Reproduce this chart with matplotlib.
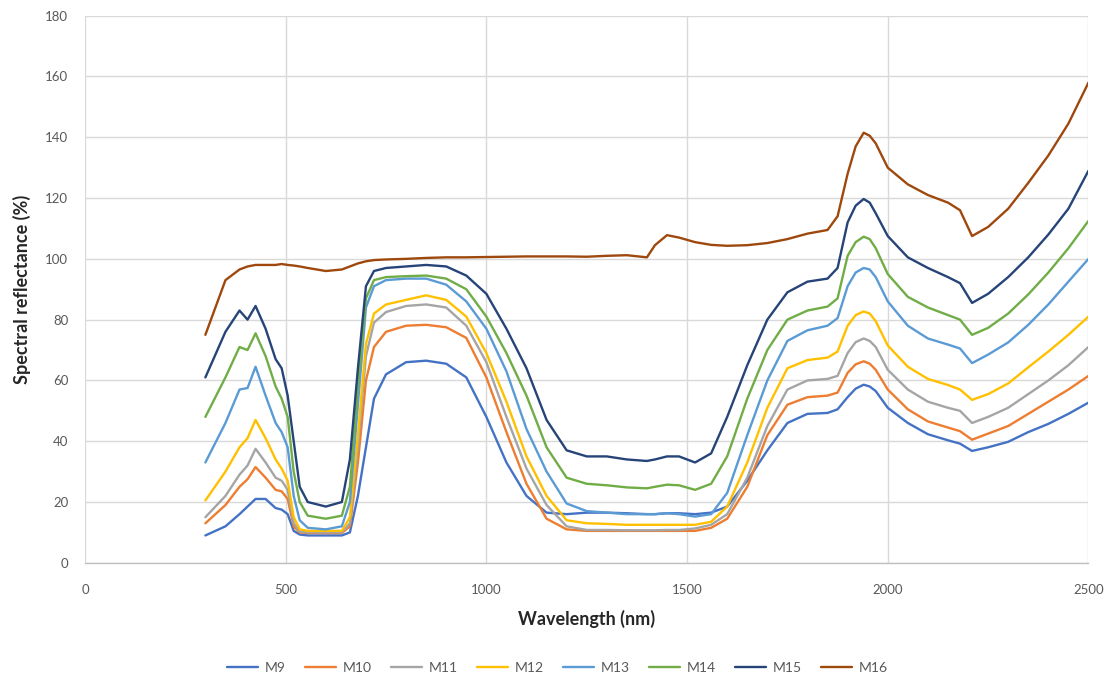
import matplotlib
matplotlib.use("Agg")
import matplotlib.pyplot as plt

plt.rcParams['font.family'] = ['Lato', 'DejaVu Sans']

wavelength = [300, 350, 385, 405, 425, 450, 475, 490, 505, 520,
              535, 555, 600, 640, 660, 680, 700, 720, 750, 800,
              850, 900, 950, 1000, 1050, 1100, 1150, 1200, 1250, 1300,
              1350, 1400, 1420, 1450, 1480, 1520, 1560, 1600, 1650, 1700,
              1750, 1800, 1850, 1875, 1900, 1920, 1940, 1955, 1970, 2000,
              2050, 2100, 2150, 2180, 2210, 2250, 2300, 2350, 2400, 2450,
              2500]

m9 = [9, 12, 16, 18.5, 21, 21, 18, 17.5, 16, 10.5,
      9.3, 9, 9, 9, 10, 22, 38, 54, 62, 66,
      66.5, 65.5, 61, 48, 33, 22, 16.5, 16, 16.5, 16.5,
      16.3, 16, 16, 16.3, 16.3, 16, 16.5, 18.5, 27, 37,
      46, 49, 49.3, 50.5, 54.5, 57.3, 58.6, 58, 56.5, 51,
      46, 42.3, 40.3, 39.2, 36.8, 38, 39.8, 43, 45.7, 49,
      52.7]

m10 = [13, 19, 25, 27.5, 31.5, 28, 24, 23.5, 21, 12,
       10, 9.8, 9.8, 9.8, 12, 33, 60, 71, 76, 78,
       78.3, 77.5, 74, 61, 43, 26, 14.5, 11, 10.5, 10.5,
       10.5, 10.5, 10.5, 10.5, 10.5, 10.5, 11.5, 14.5, 25, 42,
       52, 54.5, 55, 56, 62.5, 65.3, 66.3, 65.5, 63.5, 57,
       50.5, 46.5, 44.5, 43.3, 40.5, 42.5, 45, 49, 53, 57,
       61.5]

m11 = [15, 22, 29, 32, 37.5, 33, 28, 27, 24, 13,
       10.3, 10, 10, 10, 13, 38, 68, 79, 82.5, 84.5,
       85, 84, 78, 66, 48, 31, 19, 12, 10.8, 10.8,
       10.7, 10.7, 10.7, 10.8, 10.8, 11.3, 12.5, 16, 28, 45,
       57, 60, 60.5, 61.5, 69, 72.6, 73.8, 73, 71, 63.5,
       57, 53, 51, 50, 46, 48, 51, 55.5, 60, 65,
       71]

m12 = [20.5, 30, 38, 41, 47, 41, 34, 31, 27, 15,
       11, 10.5, 10.5, 10.5, 15, 42, 72, 82, 85, 86.5,
       88, 86.5, 81, 69, 53, 35, 22, 14, 13, 12.8,
       12.5, 12.5, 12.5, 12.5, 12.5, 12.5, 13.5, 18.5, 33, 51,
       64, 66.7, 67.5, 69.5, 78, 81.5, 82.7, 82, 79.5, 71.5,
       64.5, 60.5, 58.5, 57, 53.6, 55.5, 59, 64.3, 69.5, 75,
       81]

m13 = [33, 46, 57, 57.5, 64.5, 55, 46, 43, 38, 22,
       14, 11.5, 11, 12, 20, 52, 84, 91, 93, 93.5,
       93.5, 91.5, 86, 77, 63, 44, 30, 19.5, 17, 16.5,
       16, 16, 16, 16.3, 16, 15.2, 16, 23, 42, 60,
       73, 76.5, 78, 80.5, 91, 95.5, 97, 96.5, 94, 86,
       78, 73.8, 71.8, 70.5, 65.7, 68.5, 72.5, 78.3, 85, 92.5,
       100]

m14 = [48, 61, 71, 70, 75.5, 68, 58, 54, 48, 30,
       20, 15.5, 14.5, 15.5, 25, 58, 87, 93, 94, 94.3,
       94.5, 93.5, 90, 81, 69, 55, 38, 28, 26, 25.5,
       24.8, 24.5, 25, 25.7, 25.5, 24, 26, 35, 54, 70,
       80, 83, 84.3, 87, 101, 105.5, 107.3, 106.5, 103.5, 95,
       87.5, 84, 81.5, 80, 75, 77.3, 82, 88.3, 95.5, 103.5,
       112.5]

m15 = [61, 76, 83, 80, 84.5, 77, 67, 64, 55, 40,
       25, 20, 18.5, 20, 34, 64, 91, 96, 97, 97.5,
       98, 97.5, 94.5, 88.5, 77, 64, 47, 37, 35, 35,
       34, 33.5, 34, 35, 35, 33, 36, 48, 65, 80,
       89, 92.5, 93.5, 97, 112, 117.5, 119.7, 118.5, 115, 107.5,
       100.5, 97, 94, 92, 85.5, 88.5, 94, 100.5, 108, 116.5,
       129]

m16 = [75, 93, 96.5, 97.5, 98, 98, 98, 98.3, 98, 97.8,
       97.5, 97, 96, 96.5, 97.5, 98.5, 99.2, 99.6, 99.8, 100,
       100.3, 100.5, 100.5, 100.6, 100.7, 100.8, 100.8, 100.8, 100.7, 101,
       101.2, 100.5, 104.5, 107.8, 107, 105.5, 104.6, 104.3, 104.5, 105.2,
       106.5, 108.3, 109.5, 114, 128, 137, 141.5, 140.5, 138, 130,
       124.5, 121, 118.5, 116, 107.5, 110.5, 116.5, 125, 134, 144.5,
       158]

series_names = ['M9', 'M10', 'M11', 'M12', 'M13', 'M14', 'M15', 'M16']
series_values = [m9, m10, m11, m12, m13, m14, m15, m16]
colors = ['#4472C4', '#ED7D31', '#A5A5A5', '#FFC000',
          '#5B9BD5', '#70AD47', '#264478', '#9E480E']

x_ticks = [0, 500, 1000, 1500, 2000, 2500]
y_ticks = [0, 20, 40, 60, 80, 100, 120, 140, 160, 180]

fig = plt.figure(figsize=(11.15, 6.83), dpi=100)
ax = fig.add_axes([0.0762, 0.176, 0.9, 0.801])

for name, vals, c in zip(series_names, series_values, colors):
    ax.plot(wavelength, vals, color=c, lw=1.7, label=name,
            solid_joinstyle='round', solid_capstyle='round')

ax.set_xlim(0, 2500)
ax.set_ylim(0, 180)
ax.set_xticks(x_ticks)
ax.set_yticks(y_ticks)
ax.grid(True, color='#D9D9D9', lw=1.0)
ax.set_axisbelow(True)
for s in ['top', 'right', 'left']:
    ax.spines[s].set_visible(False)
ax.spines['bottom'].set_color('#BFBFBF')
ax.spines['bottom'].set_linewidth(1.0)
ax.tick_params(axis='both', length=0, colors='#595959', labelsize=9.5)
ax.tick_params(axis='x', pad=15)
ax.tick_params(axis='y', pad=12)

ax.set_xlabel('Wavelength (nm)', fontsize=13, fontweight='bold',
              color='#262626', labelpad=10)
ax.set_ylabel('Spectral reflectance (%)', fontsize=13, fontweight='bold',
              color='#262626', labelpad=10)

leg = fig.legend(loc='center', bbox_to_anchor=(0.5, 0.022), ncol=8,
                 frameon=False, fontsize=10, handlelength=2.2,
                 columnspacing=1.4, handletextpad=0.5)
for t in leg.get_texts():
    t.set_color('#595959')

fig.savefig('out.png', dpi=100)
